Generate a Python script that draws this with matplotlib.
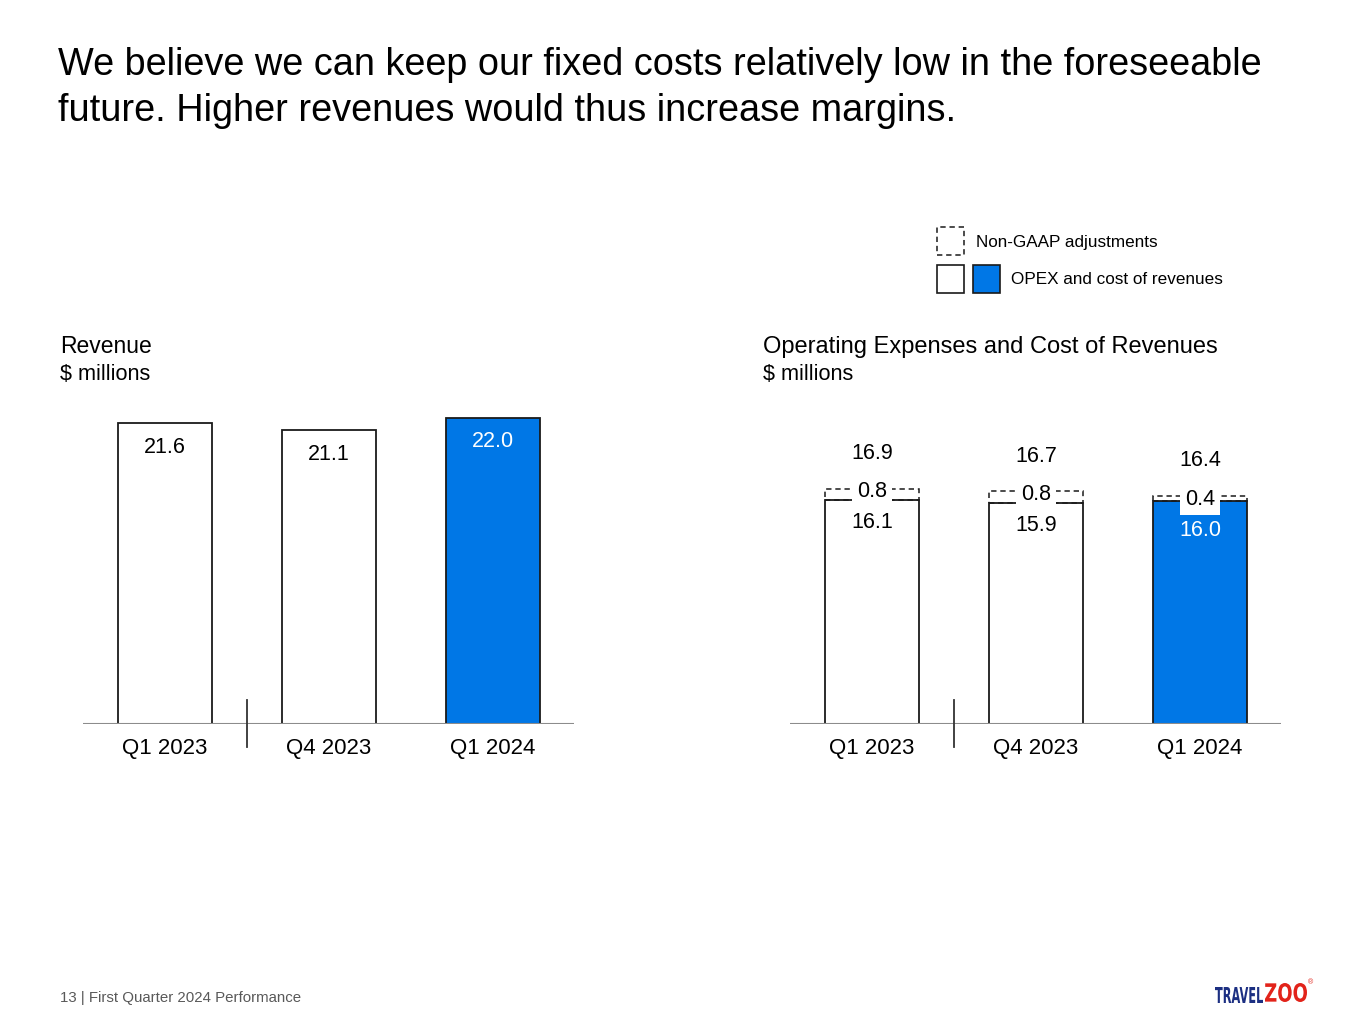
import matplotlib.pyplot as plt
import matplotlib.patches as mpatches
from matplotlib.textpath import TextPath
from matplotlib.font_manager import FontProperties
from matplotlib.transforms import Affine2D, IdentityTransform

plt.rcParams['font.family'] = ['Liberation Sans', 'DejaVu Sans']

# data
quarters = ['Q1 2023', 'Q4 2023', 'Q1 2024']
revenue = [21.6, 21.1, 22.0]
opex_base = [16.1, 15.9, 16.0]
non_gaap = [0.8, 0.8, 0.4]
opex_total = [16.9, 16.7, 16.4]

BLUE = '#0077E6'
W, H = 1365, 1024
PX_PER_UNIT = 13.93

fig = plt.figure(figsize=(W / 100, H / 100), dpi=100)


def fx(x):
    return x / W


def fy(y):
    return 1 - y / H


def make_axes(left_px):
    ax = fig.add_axes([fx(left_px), fy(724), 491 / W, 324 / H])
    ax.set_xlim(-0.5, 2.494)
    ax.set_ylim(0, 324 / PX_PER_UNIT)
    for s in ax.spines.values():
        s.set_visible(False)
    ax.axhline(0, color='#8c8c8c', lw=1.5, zorder=5)
    ax.set_yticks([])
    ax.set_xticks(range(len(quarters)))
    ax.set_xticklabels(quarters, fontsize=16)
    ax.tick_params(axis='x', length=0, pad=10)
    # separator between year-ago quarter and recent quarters
    ax.plot([0.5, 0.5], [24 / PX_PER_UNIT, -23 / PX_PER_UNIT], color='#333333',
            lw=1.3, clip_on=False, zorder=6)
    return ax


def logo_word(text, x0, x1, ytop, ybot, color):
    # squeeze a bold text path into a pixel box (logo lettering is condensed)
    tp = TextPath((0, 0), text, size=10, prop=FontProperties(family='DejaVu Sans', weight='bold'))
    ext = tp.get_extents()
    sx = (x1 - x0) / ext.width
    sy = (ybot - ytop) / ext.height
    tr = Affine2D().translate(-ext.x0, -ext.y0).scale(sx, sy).translate(x0, H - ybot)
    fig.patches.append(mpatches.PathPatch(tr.transform_path(tp), fc=color, ec='none',
                                          transform=IdentityTransform()))


colors = ['white', 'white', BLUE]
txt_colors = ['black', 'black', 'white']
bw = 94 / 164

# revenue chart
ax1 = make_axes(83)
ax1.bar(range(3), revenue, width=bw, color=colors, edgecolor='#1a1a1a', lw=1.3, zorder=3)
for i, v in enumerate(revenue):
    ax1.annotate(f'{v:.1f}', (i, v), xytext=(0, -17.5), textcoords='offset points',
                 ha='center', va='center', fontsize=15.5, color=txt_colors[i], zorder=7)

# opex chart
ax2 = make_axes(790)
ax2.bar(range(3), opex_base, width=bw, color=colors, edgecolor='#1a1a1a', lw=1.3, zorder=3)
ax2.bar(range(3), non_gaap, bottom=opex_base, width=bw, facecolor='none',
        edgecolor='#1a1a1a', lw=1.1, ls=(0, (3.5, 2.5)), zorder=3)
for i in range(3):
    top_off = [-16.5, -16.5, -21][i]
    ax2.annotate(f'{opex_base[i]:.1f}', (i, opex_base[i]), xytext=(0, top_off),
                 textcoords='offset points', ha='center', va='center',
                 fontsize=15.5, color=txt_colors[i], zorder=7)
    ax2.annotate(f'{non_gaap[i]:.1f}', (i, opex_base[i] + non_gaap[i] / 2),
                 xytext=(0, 2 if non_gaap[i] > 0.5 else -1), textcoords='offset points',
                 ha='center', va='center', fontsize=15.5, color='black', zorder=7,
                 bbox=dict(boxstyle='square,pad=0.22', fc='white', ec='none'))
    ax2.annotate(f'{opex_total[i]:.1f}', (i, opex_total[i]), xytext=(0, 25),
                 textcoords='offset points', ha='center', va='center',
                 fontsize=15.5, color='black', zorder=7)

# titles
fig.text(fx(58), fy(75), 'We believe we can keep our fixed costs relatively low in the foreseeable',
         fontsize=27.3, va='baseline', ha='left')
fig.text(fx(58), fy(121), 'future. Higher revenues would thus increase margins.',
         fontsize=27.3, va='baseline', ha='left')

fig.text(fx(60), fy(353), 'Revenue', fontsize=16.5, va='baseline')
fig.text(fx(60), fy(380), '$ millions', fontsize=15.6, va='baseline')
fig.text(fx(763), fy(353), 'Operating Expenses and Cost of Revenues', fontsize=17, va='baseline')
fig.text(fx(763), fy(380), '$ millions', fontsize=15.6, va='baseline')

# legend
fig.patches.append(mpatches.Rectangle((fx(937), fy(255)), 27 / W, 28 / H, transform=fig.transFigure,
                                      fc='white', ec='#1a1a1a', lw=1.1, ls=(0, (3.5, 2.5))))
fig.patches.append(mpatches.Rectangle((fx(937), fy(293)), 27 / W, 28 / H, transform=fig.transFigure,
                                      fc='white', ec='#1a1a1a', lw=1.2))
fig.patches.append(mpatches.Rectangle((fx(973), fy(293)), 27 / W, 28 / H, transform=fig.transFigure,
                                      fc=BLUE, ec='#1a1a1a', lw=1.2))
fig.text(fx(976), fy(242), 'Non-GAAP adjustments', fontsize=12.3, va='center')
fig.text(fx(1011), fy(279), 'OPEX and cost of revenues', fontsize=12.3, va='center')

# footer
fig.text(fx(60), fy(998), '13 | First Quarter 2024 Performance', fontsize=10.8,
         color='#595959', va='center')
logo_word('TRAVEL', 1215, 1263, 987, 1003, '#1c2f82')
logo_word('ZOO', 1265, 1307, 983, 1002, '#e2231a')
fig.text(fx(1310), fy(983), '®', fontsize=5, color='#e2231a', va='center', ha='center')

fig.savefig('out.png', dpi=100)
